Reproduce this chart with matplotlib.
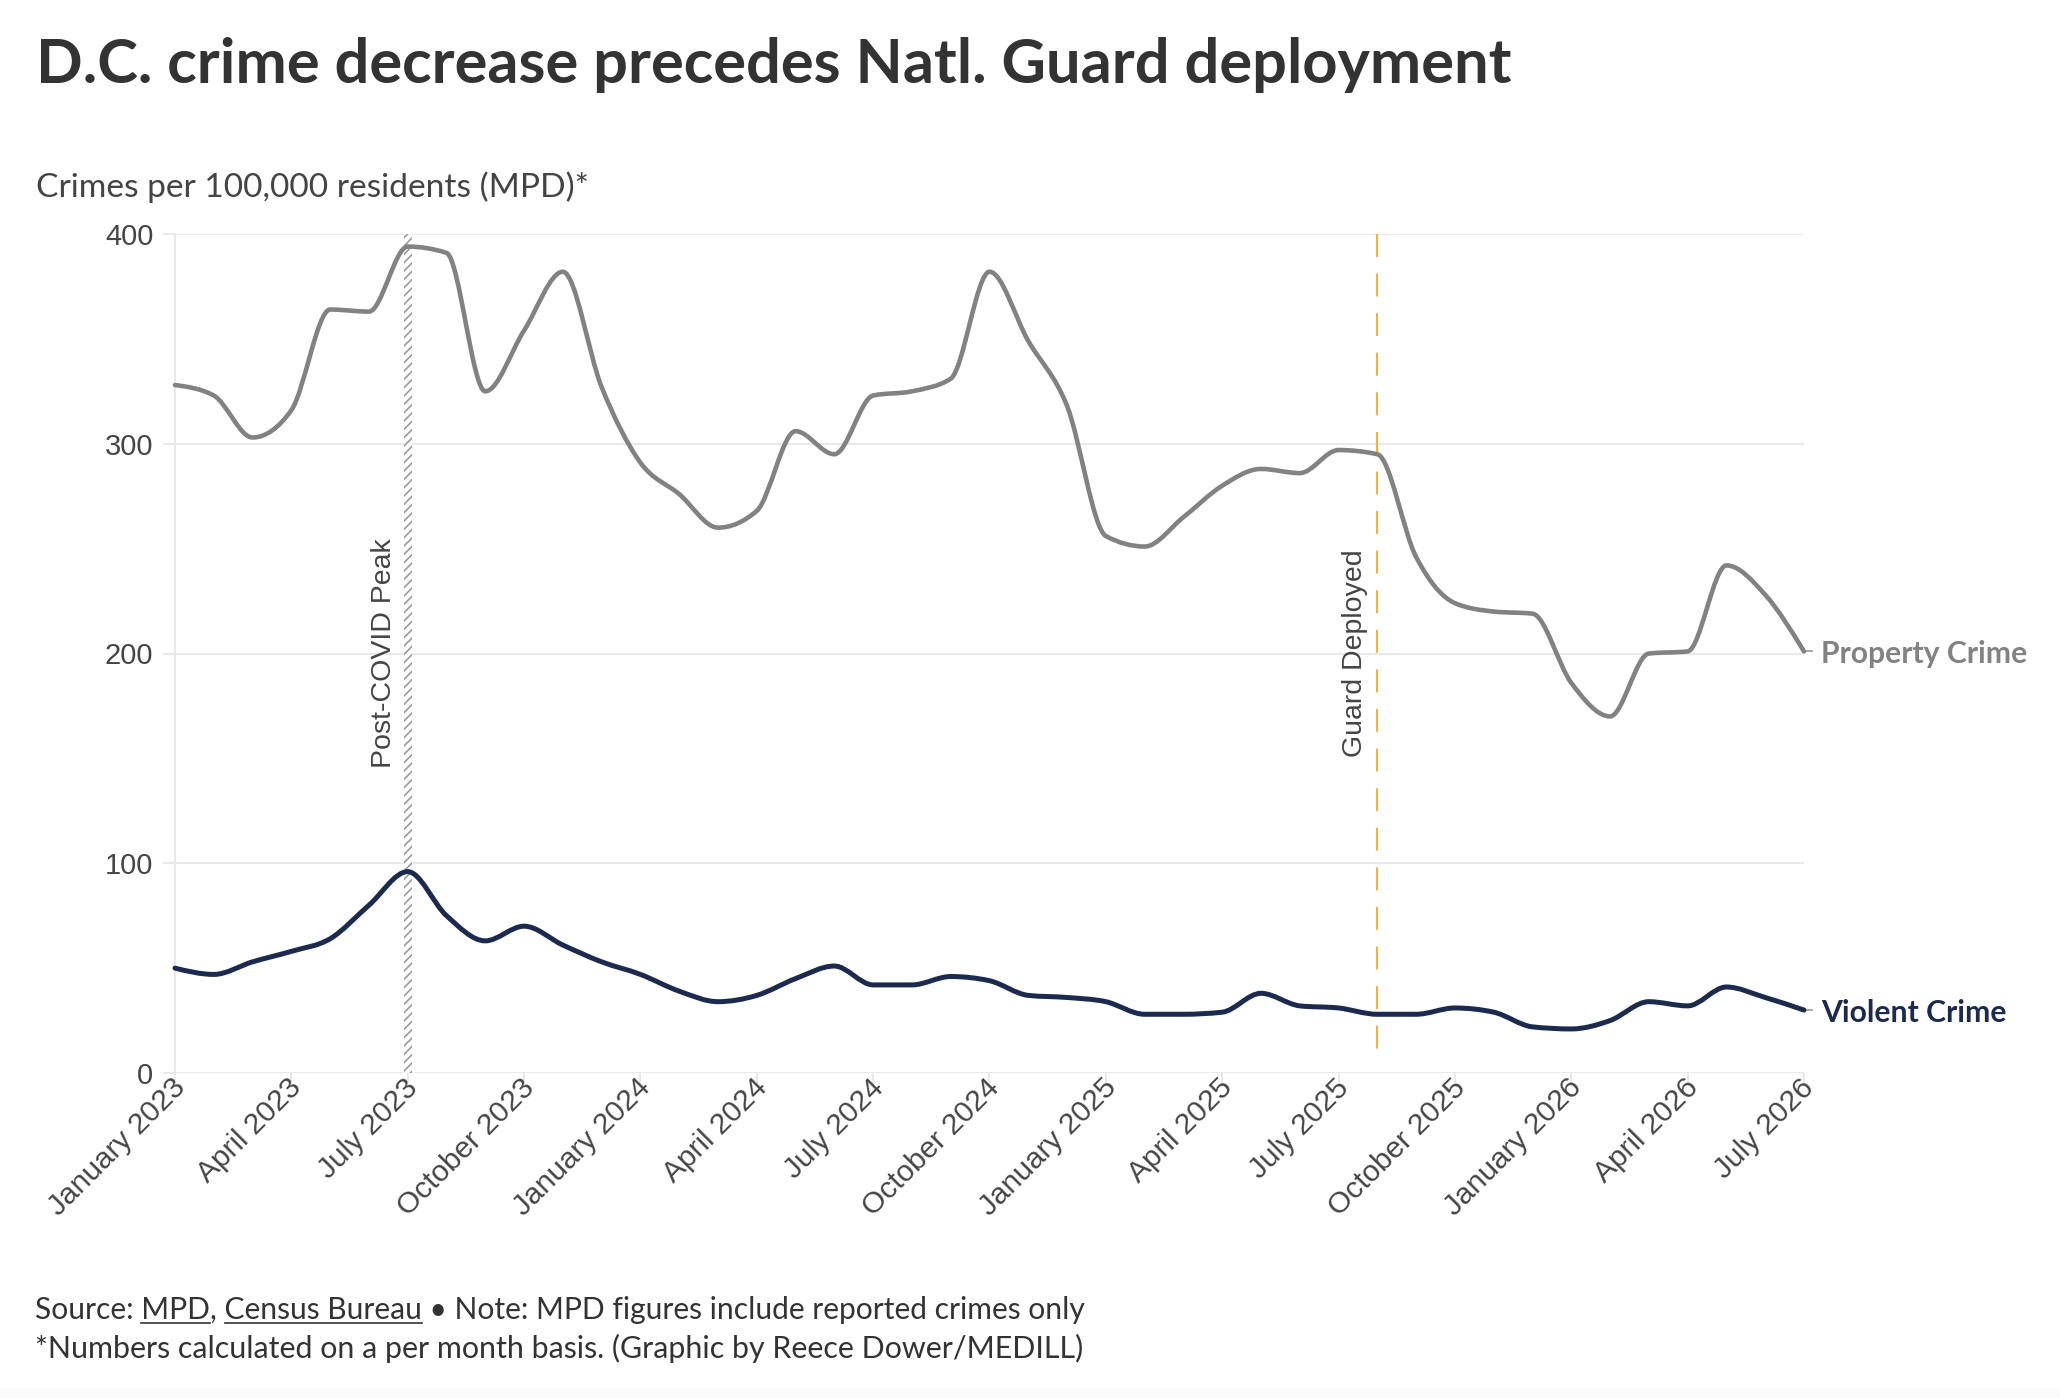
import matplotlib
matplotlib.use("Agg")
import matplotlib.pyplot as plt
import matplotlib.transforms as mtransforms
import numpy as np
from matplotlib.path import Path
from matplotlib.patches import PathPatch, Rectangle
from matplotlib.lines import Line2D

# ---------------- data ----------------
title = "D.C. crime decrease precedes Natl. Guard deployment"
subtitle = "Crimes per 100,000 residents (MPD)*"
footer1 = "Source: MPD, Census Bureau \u2022 Note: MPD figures include reported crimes only"
footer2 = "*Numbers calculated on a per month basis. (Graphic by Reece Dower/MEDILL)"
underlined = ["MPD", "Census Bureau"]

# monthly values, January 2023 ... July 2026 (43 months)
property_crime = [328, 323, 303, 316, 364, 363, 394, 391, 325, 354, 382, 327,
                  291, 276, 260, 268, 306, 295, 323, 325, 331, 382, 349, 318,
                  256, 251, 265, 280, 288, 286, 297, 295, 246, 224, 220, 219,
                  186, 170, 200, 201, 242, 228, 201]
violent_crime = [50, 47, 53, 58, 64, 80, 96, 75, 63, 70, 61, 53,
                 47, 39, 34, 37, 45, 51, 42, 42, 46, 44, 37, 36,
                 34, 28, 28, 29, 38, 32, 31, 28, 28, 31, 29, 22,
                 21, 25, 34, 32, 41, 36, 30]
tick_labels = ["January 2023", "April 2023", "July 2023", "October 2023",
               "January 2024", "April 2024", "July 2024", "October 2024",
               "January 2025", "April 2025", "July 2025", "October 2025",
               "January 2026", "April 2026", "July 2026"]
y_ticks = [0, 100, 200, 300, 400]
peak_month = 6      # July 2023
guard_month = 31    # August 2025
series_names = ["Property Crime", "Violent Crime"]

# ---------------- style ----------------
W, H = 2060, 1398
C_PROP = "#828282"
C_VIOL = "#1b2a4e"
C_GUARD = "#f2b23e"
C_GRID = "#e9e9e9"
C_TEXT = "#333333"
C_TICK = "#454545"

plt.rcParams["hatch.linewidth"] = 1.2
fig = plt.figure(figsize=(W / 100, H / 100), dpi=100)
fig.patch.set_facecolor("white")
renderer = fig.canvas.get_renderer()


def fpos(x, y_top):
    return x / W, 1 - y_top / H


def fit_text(x, y_top, s, target_w, size0, **kw):
    t = fig.text(*fpos(x, y_top), s, fontsize=size0, va="baseline", ha="left", **kw)
    w = t.get_window_extent(renderer).width
    t.set_fontsize(size0 * target_w / w)
    return t


def text_w(s, size, family, weight="normal"):
    t = fig.text(0, 0, s, fontsize=size, fontfamily=family, fontweight=weight)
    w = t.get_window_extent(renderer).width
    t.remove()
    return w


# ---------------- axes ----------------
ax = fig.add_axes([175 / W, (H - 1073) / H, (1804 - 175) / W, (1073 - 234) / H])
n = len(property_crime)
months = np.arange(n)
ax.set_xlim(0, n - 1)
ax.set_ylim(0, 400)

for sp in ["top", "right", "bottom"]:
    ax.spines[sp].set_visible(False)
ax.spines["left"].set_color(C_GRID)
ax.spines["left"].set_linewidth(1.5)

ax.set_yticks(y_ticks)
ax.set_yticklabels([str(v) for v in y_ticks])
ax.set_xticks(months[::3])
ax.set_xticklabels(tick_labels)
ax.tick_params(axis="y", length=8.5, width=1.5, color=C_GRID, pad=7,
               labelsize=21, labelcolor=C_TICK)
ax.tick_params(axis="x", length=8.5, width=1.5, color=C_GRID, pad=4,
               labelsize=21.5, labelcolor=C_TICK)
for lab in ax.get_yticklabels() + ax.get_xticklabels():
    lab.set_fontfamily("Liberation Sans")
shift = mtransforms.ScaledTranslation(6 / 100, 7 / 100, fig.dpi_scale_trans)
for lab in ax.get_xticklabels():
    lab.set_rotation(45)
    lab.set_ha("right")
    lab.set_va("center")
    lab.set_rotation_mode("anchor")
    lab.set_transform(lab.get_transform() + shift)

ax.yaxis.grid(True, color=C_GRID, linewidth=1.5)
ax.set_axisbelow(True)

# post-covid peak hatched band
ax.axvspan(peak_month - 0.1, peak_month + 0.1, facecolor="white",
           edgecolor="#9a9a9a", hatch="////", linewidth=0, zorder=1)
ax.text(peak_month - 0.62, 200, "Post-COVID Peak", rotation=90, ha="center",
        va="center", fontsize=20.5, fontfamily="Liberation Sans", color=C_TICK)

# guard deployment dashed line
gl = Line2D([guard_month, guard_month], [400, 8], color=C_GUARD, linewidth=1.5,
            zorder=2)
gl.set_dashes((11, 8))
ax.add_line(gl)
ax.text(guard_month - 0.58, 200, "Guard Deployed", rotation=90, ha="center",
        va="center", fontsize=20.5, fontfamily="Liberation Sans", color=C_TICK)


# smooth monotone curve (cubic Bezier segments through the monthly values)
def monotone_path(x, y):
    x = np.asarray(x, float)
    y = np.asarray(y, float)
    h = np.diff(x)
    s = np.diff(y) / h
    t = np.zeros_like(y)
    for i in range(1, len(y) - 1):
        s0, s1, h0, h1 = s[i - 1], s[i], h[i - 1], h[i]
        p = (s0 * h1 + s1 * h0) / (h0 + h1)
        sg = (1 if s0 >= 0 else -1) + (1 if s1 >= 0 else -1)
        t[i] = sg * min(abs(s0), abs(s1), 0.5 * abs(p))
    t[0] = (3 * s[0] - t[1]) / 2
    t[-1] = (3 * s[-1] - t[-2]) / 2
    verts = [(x[0], y[0])]
    codes = [Path.MOVETO]
    for i in range(len(y) - 1):
        d = h[i] / 3
        verts += [(x[i] + d, y[i] + d * t[i]),
                  (x[i + 1] - d, y[i + 1] - d * t[i + 1]),
                  (x[i + 1], y[i + 1])]
        codes += [Path.CURVE4] * 3
    return Path(verts, codes)


for vals, col, lw in [(property_crime, C_PROP, 3.3), (violent_crime, C_VIOL, 3.6)]:
    patch = PathPatch(monotone_path(months, vals), facecolor="none", edgecolor=col,
                      linewidth=lw, capstyle="round", joinstyle="round",
                      transform=ax.transData, clip_on=False, zorder=3)
    ax.add_patch(patch)

# end labels
for name, vals, col, target in [(series_names[0], property_crime, C_PROP, 207),
                                (series_names[1], violent_crime, C_VIOL, 186)]:
    yv = vals[-1]
    ax.add_line(Line2D([n - 1 + 0.05, n - 1 + 0.2], [yv, yv], color="#999999",
                       linewidth=1.2, clip_on=False))
    base = 16
    w = text_w(name, base, "Lato", "bold")
    ax.text(n - 1 + 0.44, yv, name, ha="left", va="center_baseline",
            fontsize=base * target / w,
            fontfamily="Lato", fontweight="bold", color=col, clip_on=False)

# ---------------- titles & footer ----------------
fit_text(36, 83, title, 1475, 40, fontfamily="Lato", fontweight="bold", color=C_TEXT)
fit_text(36, 197, subtitle, 553, 20, fontfamily="Lato", color="#444444")

f1 = fit_text(35, 1319, footer1, 1049, 18, fontfamily="Lato", color=C_TEXT)
fit_text(35, 1358, footer2, 1046, 18, fontfamily="Lato", color=C_TEXT)

# underline linked words in footer line 1
fs1 = f1.get_fontsize()
bar_w = text_w("|", fs1, "Lato")
for word in underlined:
    idx = footer1.index(word)
    x0 = 35 + text_w(footer1[:idx] + "|", fs1, "Lato") - bar_w
    x1 = 35 + text_w(footer1[:idx + len(word)] + "|", fs1, "Lato") - bar_w
    yl = 1 - (1319 + 4) / H
    fig.add_artist(Line2D([x0 / W, x1 / W], [yl, yl], color=C_TEXT, linewidth=1.2,
                          transform=fig.transFigure))

# faint bottom band
fig.add_artist(Rectangle((0, 0), 1, 10 / H, transform=fig.transFigure,
                         facecolor="#fbfbfb", edgecolor="none"))

fig.savefig("out.png", dpi=100, facecolor="white")
